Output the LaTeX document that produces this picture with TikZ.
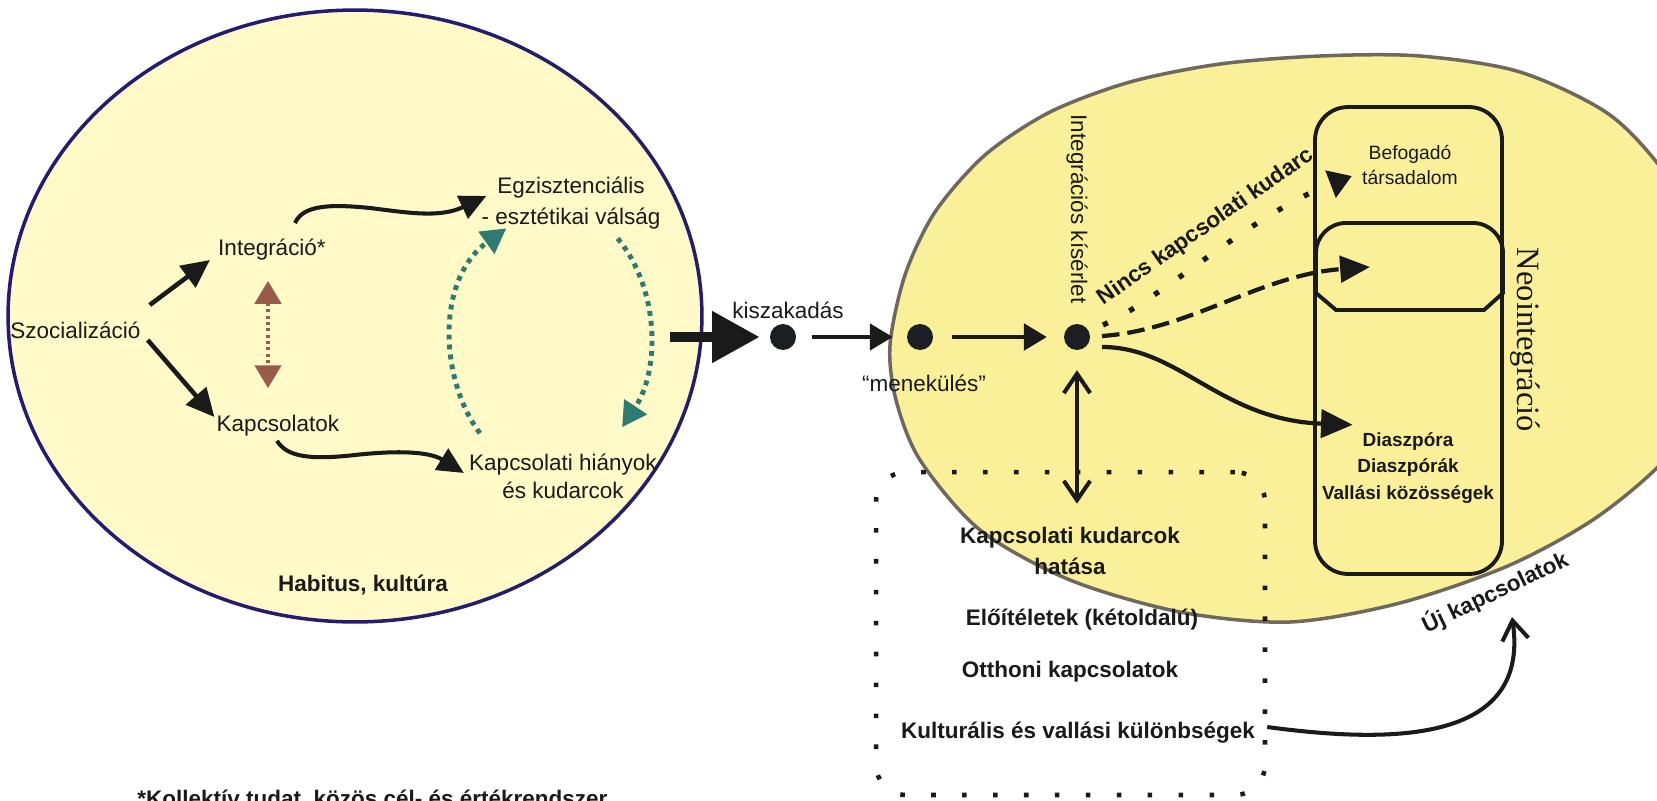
\documentclass[tikz,border=0pt]{standalone}
\usepackage{fontspec}
\setmainfont{Liberation Sans}
\newfontfamily\neoserif{Liberation Serif}
\usetikzlibrary{arrows.meta,calc,shapes.geometric}

\definecolor{habfill}{HTML}{FFFAC8}
\definecolor{habline}{HTML}{241C6E}
\definecolor{neofill}{HTML}{FAF09A}
\definecolor{neoline}{HTML}{6E695E}
\definecolor{loopteal}{HTML}{2E7B74}
\definecolor{tiebrown}{HTML}{9A5A4C}
\definecolor{ink}{HTML}{1A1A1A}
\definecolor{dotink}{HTML}{1B1F24}

\begin{document}
\begin{tikzpicture}[x=0.02cm, y=0.02cm,
  lbl/.style={inner sep=0pt, text=ink, font=\fontsize{12.8}{15}\selectfont},
  blbl/.style={inner sep=0pt, text=ink, font=\fontsize{12.8}{18}\selectfont\bfseries},
  station/.style={circle, fill=dotink, minimum size=0.52cm, inner sep=0pt},
  pusharr/.style={draw=ink, line width=2.6pt, -{Triangle[length=16pt,width=15pt]}},
  wavearr/.style={draw=ink, line width=2.3pt, -{Triangle[length=15pt,width=14pt]}},
  midarr/.style={draw=ink, line width=2.3pt, -{Triangle[length=13pt,width=15pt]}},
  bigarr/.style={draw=ink, line width=5.7pt, -{Triangle[length=27pt,width=28pt]}},
  tiearr/.style={draw=tiebrown, line width=2pt, dash pattern=on 1.8pt off 1.8pt,
     {Triangle[length=13pt,width=15pt]}-{Triangle[length=13pt,width=15pt]}},
  looparr/.style={draw=loopteal, line width=2.8pt, dash pattern=on 2.8pt off 2.9pt,
     -{Triangle[length=14pt,width=15pt]}},
  failarr/.style={draw=ink, line width=3pt, dash pattern=on 3pt off 14pt,
     -{Triangle[length=13pt,width=16pt]}},
  trialarr/.style={draw=ink, line width=2.4pt, dash pattern=on 10pt off 4.5pt,
     -{Triangle[length=17pt,width=15pt]}},
  reacharr/.style={draw=ink, line width=2.4pt, -{Triangle[length=18pt,width=16pt]}},
  barbarr/.style={draw=ink, line width=2.3pt, -{Straight Barb[length=11pt,width=15pt]}},
  twobarb/.style={draw=ink, line width=2.3pt,
     {Straight Barb[length=11pt,width=15pt]}-{Straight Barb[length=11pt,width=15pt]}},
  boxline/.style={draw=ink, line width=2.2pt},
  effdots/.style={draw=ink, line width=2.6pt, dash pattern=on 2.6pt off 15pt,
     rounded corners=0.6cm, minimum width=7.78cm, minimum height=6.46cm, inner sep=0pt},
]
\useasboundingbox (0,0) rectangle (1657,-801);

% --- the two fields ---
\node[ellipse, draw=habline, fill=habfill, line width=2pt, inner sep=0pt,
      minimum width=13.88cm, minimum height=12.24cm] (habell) at (355,-316) {};

\draw[draw=neoline, fill=neofill, line width=2pt] plot[smooth cycle] coordinates {
  (890,-345) (905,-275) (935,-212) (985,-155) (1050,-112) (1130,-82) (1220,-64)
  (1320,-56) (1420,-56) (1520,-72) (1610,-115) (1670,-180) (1715,-265) (1718,-360)
  (1675,-448) (1600,-515) (1510,-565) (1400,-603) (1290,-622) (1180,-612)
  (1070,-580) (980,-530) (920,-460) (896,-400)};

% --- dotted frame of the failure effects ---
\node[effdots] (effect) at (1070.5,-633.5) {};

% --- neointegration column ---
\node[boxline, rounded corners=0.66cm, minimum width=3.74cm, minimum height=9.34cm,
      inner sep=0pt] (neobox) at (1408.5,-340.5) {};
\draw[boxline] (1316,-293) -- (1316,-253) arc[start angle=180,end angle=90,radius=0.6cm]
  -- (1473,-223) arc[start angle=90,end angle=0,radius=0.6cm]
  -- (1503,-293) -- (1484,-310) -- (1336,-310) -- cycle;
\coordinate (innerslot) at (1370,-267);

% --- left field labels ---
\node[lbl, anchor=west] (szoc) at (10,-330) {Szocializáció};
\node[lbl] (integ) at (272,-250) {Integráció*};
\node[lbl] (kapcs) at (278,-426) {Kapcsolatok};
\node[lbl, align=center, font=\fontsize{12.8}{17.6}\selectfont] (egz) at (571,-203)
  {Egzisztenciális\\- esztétikai válság};
\node[lbl, align=center, font=\fontsize{12.8}{16}\selectfont] (kaphi) at (563,-476)
  {Kapcsolati hiányok\\és kudarcok};
\node[blbl] (habitus) at (363,-585) {Habitus, kultúra};
\node[blbl, anchor=base west, font=\fontsize{12.8}{15}\selectfont\bfseries] (koll)
  at (137,-806) {*Kollektív tudat, közös cél- és értékrendszer};

% --- path of migration ---
\node[station] (burst) at (783,-337) {};
\node[station] (flight) at (920,-337) {};
\node[station] (attempt) at (1077,-337) {};
\node[lbl] (kisz) at (788,-310) {kiszakadás};
\node[lbl] (menek) at (924,-383) {“menekülés”};
\node[lbl, rotate=-90] (intkis) at (1077,-209) {Integrációs kísérlet};
\node[blbl, rotate=35] (nincs) at (1206,-227) {Nincs kapcsolati kudarc};

% --- right field labels ---
\node[lbl, align=center, font=\fontsize{11}{14}\selectfont] (befog) at (1410,-165)
  {Befogadó\\társadalom};
\node[blbl, align=center, font=\fontsize{10.8}{15.3}\selectfont\bfseries] (diasz)
  at (1408,-468) {Diaszpóra\\Diaszpórák\\Vallási közösségek};
\node[inner sep=0pt, text=ink, font=\neoserif\fontsize{18.5}{22}\selectfont, rotate=-90]
  (neo) at (1525,-340) {Neointegráció};
\node[blbl, rotate=25.5] (ujk) at (1495,-592) {Új kapcsolatok};

\node[blbl, align=center, font=\fontsize{12.8}{18}\selectfont\bfseries] (kk)
  at (1070,-551) {Kapcsolati kudarcok\\hatása};
\node[blbl] (eloit) at (1082,-620) {Előítéletek (kétoldalú)};
\node[blbl] (otth) at (1070,-672) {Otthoni kapcsolatok};
\node[blbl] (kult) at (1078,-733) {Kulturális és vallási különbségek};

% --- connectors in the left field ---
\draw[pusharr] ($(szoc.east)+(9,25)$) -- ($(integ.west)+(-8,-10)$);
\draw[pusharr] ($(szoc.east)+(7,-10)$) -- ($(kapcs.west)+(-2,9)$);
\draw[tiearr] ($(integ.south)+(-4,-20)$) -- ($(kapcs.north)+(-10,27)$);
\draw[wavearr] ($(integ.north)+(23,16)$) .. controls (303,-205) and (330,-204) .. (370,-208)
  .. controls (410,-213) and (440,-218) .. ($(egz.west)+(5,7)$);
\draw[wavearr] ($(kapcs.south)+(-1,-4)$) .. controls (287,-457) and (310,-460) .. (355,-455)
  .. controls (400,-450) and (430,-452) .. ($(kaphi.west)+(-5,3)$);
\draw[looparr] ($(kaphi.north west)+(11,20)$) .. controls (440,-380) and (435,-280)
  .. ($(egz.south west)+(25,1)$);
\draw[looparr] ($(egz.south east)+(-43,-9)$) .. controls (660,-290) and (660,-370)
  .. ($(kaphi.north east)+(-35,26)$);

% --- connectors along the way out ---
\draw[bigarr] ($(habell.east)+(-34,-21)$) -- ($(burst.west)+(-10,0)$);
\draw[midarr, shorten <=9pt, shorten >=8pt] (burst) -- (flight);
\draw[midarr, shorten <=10.8pt, shorten >=9.6pt] (flight) -- (attempt);

% --- connectors in the right field ---
\draw[failarr] ($(attempt)+(26,12)$) .. controls (1160,-300) and (1250,-215)
  .. ($(befog.west)+(-10,-11)$);
\draw[trialarr] ($(attempt)+(25,1)$) .. controls (1190,-330) and (1260,-275) .. (innerslot);
\draw[reacharr] ($(attempt)+(25,-10)$) .. controls (1180,-347) and (1220,-420)
  .. ($(diasz.north west)+(31,7)$);
\draw[twobarb, shorten <=11.3pt, shorten >=13pt] (attempt.south) -- (attempt.south |- kk.north);
\draw[barbarr] ($(kult.east)+(12,6)$) .. controls (1400,-745) and (1530,-740)
  .. ($(ujk.center)+(17,-25)$);
\end{tikzpicture}
\end{document}
